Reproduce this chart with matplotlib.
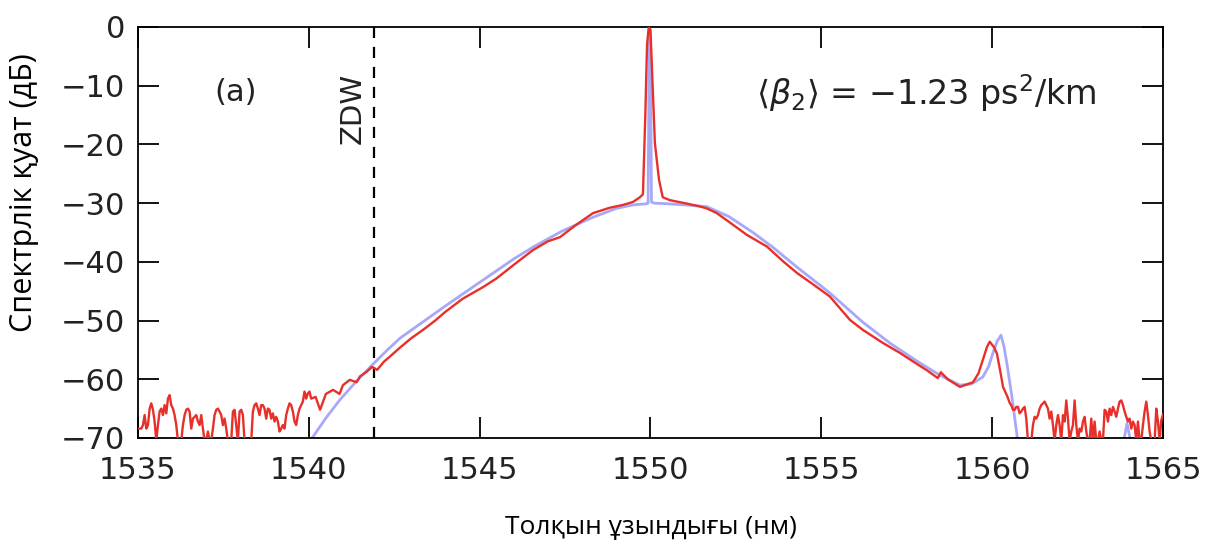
import numpy as np
import matplotlib
matplotlib.use("Agg")
import matplotlib.pyplot as plt

plt.rcParams["mathtext.fontset"] = "dejavusans"

# measured spectrum (red): noise floor left, main body, noise floor right
noise_left_start, noise_left_stop = 1535.0, 1540.07
noise_left_db = [
    -68.4, -68.4, -68.4, -67.8, -66.1, -68.4, -67.8, -65.0, -64.1, -65.2,
    -67.2, -70.5, -67.8, -65.5, -65.0, -66.1, -64.4, -65.8, -63.3, -62.7,
    -64.4, -65.0, -66.1, -67.8, -70.5, -70.5, -70.5, -67.8, -66.1, -65.2,
    -65.0, -65.5, -68.4, -66.7, -66.4, -66.1, -67.2, -67.8, -66.1, -68.4,
    -70.5, -70.5, -68.9, -70.5, -70.5, -68.4, -66.1, -65.2, -65.0, -65.5,
    -66.1, -67.8, -66.7, -68.4, -70.5, -70.5, -70.5, -65.5, -65.2, -67.8,
    -70.5, -65.5, -65.2, -66.1, -70.5, -70.5, -70.5, -70.5, -70.5, -65.5,
    -64.4, -64.1, -65.0, -66.1, -64.4, -64.4, -65.0, -66.7, -65.0, -65.2,
    -66.7, -65.8, -67.2, -66.4, -67.2, -68.9, -68.4, -67.8, -68.4, -66.1,
    -65.0, -64.1, -64.4, -65.5, -67.2, -67.8, -66.1, -65.0, -64.4, -63.8,
    -62.1, -63.3, -62.4, -62.1, -63.3,
]

body_wl = [
    1540.2, 1540.33, 1540.5, 1540.71, 1540.9, 1541.0, 1541.2, 1541.4, 1541.5,
    1541.7, 1541.85, 1542.0, 1542.2, 1542.4, 1542.67, 1543.0, 1543.34, 1543.7,
    1544.0, 1544.5, 1545.1, 1545.5, 1546.0, 1546.56, 1547.0, 1547.35, 1547.8,
    1548.32, 1548.8, 1549.2, 1549.49, 1549.69, 1549.78, 1549.85, 1549.9,
    1549.95, 1550.0, 1550.05, 1550.13, 1550.25, 1550.36, 1550.57, 1551.0,
    1551.4, 1551.65, 1551.94, 1552.3, 1552.82, 1553.41, 1553.9, 1554.29,
    1554.8, 1555.25, 1555.84, 1556.22, 1556.8, 1557.3, 1557.8, 1558.1,
    1558.41, 1558.5, 1558.7, 1559.06, 1559.3, 1559.44, 1559.6, 1559.7,
    1559.85, 1559.93, 1560.05, 1560.14, 1560.25, 1560.32, 1560.45, 1560.52,
    1560.56,
]
body_db = [
    -63.0, -65.2, -62.5, -61.8, -62.5, -61.0, -60.1, -60.5, -59.5,
    -58.7, -57.9, -58.4, -57.0, -56.0, -54.6, -53.0, -51.6, -50.0,
    -48.5, -46.3, -44.3, -42.8, -40.5, -38.0, -36.5, -35.8, -33.8,
    -31.7, -30.8, -30.3, -29.8, -29.0, -28.5, -15.0, -3.0,
    0.0, -0.5, -8.0, -19.8, -26.0, -29.0, -29.5, -30.0,
    -30.5, -30.9, -31.7, -33.2, -35.4, -37.4, -40.0, -41.9,
    -44.0, -45.9, -49.9, -51.6, -53.8, -55.5, -57.4, -58.5,
    -59.8, -58.8, -60.0, -61.3, -60.8, -60.5, -59.0, -57.2,
    -54.5, -53.6, -54.5, -55.6, -59.0, -61.3, -63.0, -64.1,
    -64.4,
]

noise_right_start, noise_right_stop = 1560.61, 1565.0
noise_right_db = [
    -65.2, -65.2, -64.7, -64.7, -65.8, -65.5, -65.0, -64.7, -66.7, -70.5,
    -70.5, -70.5, -67.8, -66.4, -66.7, -66.1, -65.0, -64.4, -64.1, -63.8,
    -64.4, -65.0, -66.7, -65.5, -67.8, -70.5, -67.8, -66.1, -67.8, -70.5,
    -66.1, -67.2, -63.6, -66.7, -70.5, -68.9, -67.8, -63.6, -67.8, -70.5,
    -68.4, -68.9, -67.2, -66.4, -68.9, -70.5, -70.5, -66.7, -70.5, -67.2,
    -70.5, -70.5, -68.9, -70.5, -70.5, -65.2, -65.5, -67.2, -65.0, -66.1,
    -64.7, -65.5, -66.4, -65.0, -63.8, -63.6, -64.4, -65.5, -66.4, -67.2,
    -66.7, -68.4, -67.2, -67.8, -70.5, -67.2, -70.5, -70.5, -67.8, -65.5,
    -63.8, -66.1, -68.9, -70.5, -70.5, -70.5, -65.0, -67.2, -70.5, -67.0,
    -66.0,
]

# simulated spectrum (blue)
sim_wl = [
    1540.0, 1540.1, 1540.5, 1540.91, 1541.4, 1541.85, 1542.3, 1542.67, 1543.25,
    1544.0, 1545.1, 1546.0, 1546.56, 1547.4, 1548.32, 1549.0, 1549.49, 1549.9,
    1549.93, 1549.96, 1549.98, 1550.0, 1550.03, 1550.1, 1550.5, 1551.0,
    1551.65, 1552.3, 1553.0, 1553.6, 1554.29, 1555.25, 1556.22, 1557.0,
    1557.8, 1558.47, 1559.06, 1559.4, 1559.73, 1559.9, 1560.02, 1560.15,
    1560.26, 1560.35, 1560.43, 1560.58, 1560.75, 1562.0, 1563.85, 1563.95,
    1564.05,
]
sim_db = [
    -70.5, -70.0, -66.6, -63.5, -60.3, -57.6, -55.0, -53.0, -50.6,
    -47.5, -43.1, -39.5, -37.5, -34.8, -32.4, -30.9, -30.3, -30.1,
    -30.0, -8.0, 0.0, -5.0, -29.8, -30.0, -30.1, -30.3,
    -30.6, -32.3, -35.0, -37.6, -40.9, -45.3, -50.3, -53.8,
    -56.9, -59.3, -61.0, -60.8, -59.6, -57.8, -55.6, -53.5,
    -52.5, -54.5, -57.2, -63.0, -70.5, np.nan, -70.5, -67.5,
    -70.5,
]

zdw = 1541.9
x_ticks = [1535, 1540, 1545, 1550, 1555, 1560, 1565]
y_ticks = [0, -10, -20, -30, -40, -50, -60, -70]

wl_left = np.linspace(noise_left_start, noise_left_stop, len(noise_left_db))
wl_right = np.linspace(noise_right_start, noise_right_stop, len(noise_right_db))
meas_wl = np.concatenate([wl_left, body_wl, wl_right])
meas_db = np.concatenate([noise_left_db, body_db, noise_right_db])

fig = plt.figure(figsize=(12.07, 5.42), dpi=100)
ax = fig.add_axes([0.1143, 0.1919, 0.8492, 0.7583])

ax.plot(sim_wl, sim_db, color="#a8a8f8", lw=2.0, zorder=2)
ax.plot(meas_wl, meas_db, color="#e8302a", lw=1.7, zorder=3)
ax.axvline(zdw, color="black", lw=1.6, ls=(0, (5, 4)), zorder=1)

ax.set_xlim(1535, 1565)
ax.set_ylim(-70, 0)
ax.set_xticks(x_ticks)
ax.set_yticks(y_ticks)
ax.set_yticklabels(["0"] + ["\u2212%d" % abs(v) for v in y_ticks[1:]])
ax.tick_params(direction="in", length=15, width=1.3, labelsize=22,
               top=True, right=True, labelcolor="#222222")
ax.tick_params(axis="x", pad=13)
ax.tick_params(axis="y", pad=9)
for s in ax.spines.values():
    s.set_linewidth(1.3)

ax.text(1537.85, -11.2, "(a)", fontsize=22, ha="center", va="center", color="#222222")
ax.text(1541.3, -13.8, "ZDW", fontsize=21, rotation=90, ha="center", va="center", color="#222222")
ax.text(1553.1, -11.2, r"$\langle\beta_2\rangle$ = $-$1.23 ps$^2$/km",
        fontsize=24, ha="left", va="center", color="#222222")

fig.text(0.539, 0.026, "Толқын ұзындығы (нм)", fontsize=19, family="Open Sans",
         ha="center", va="center")
fig.text(0.020, 0.645, "Спектрлік қуат (дБ)", fontsize=22, family="Open Sans",
         rotation=90, ha="center", va="center")

fig.savefig("out.png", dpi=100)
